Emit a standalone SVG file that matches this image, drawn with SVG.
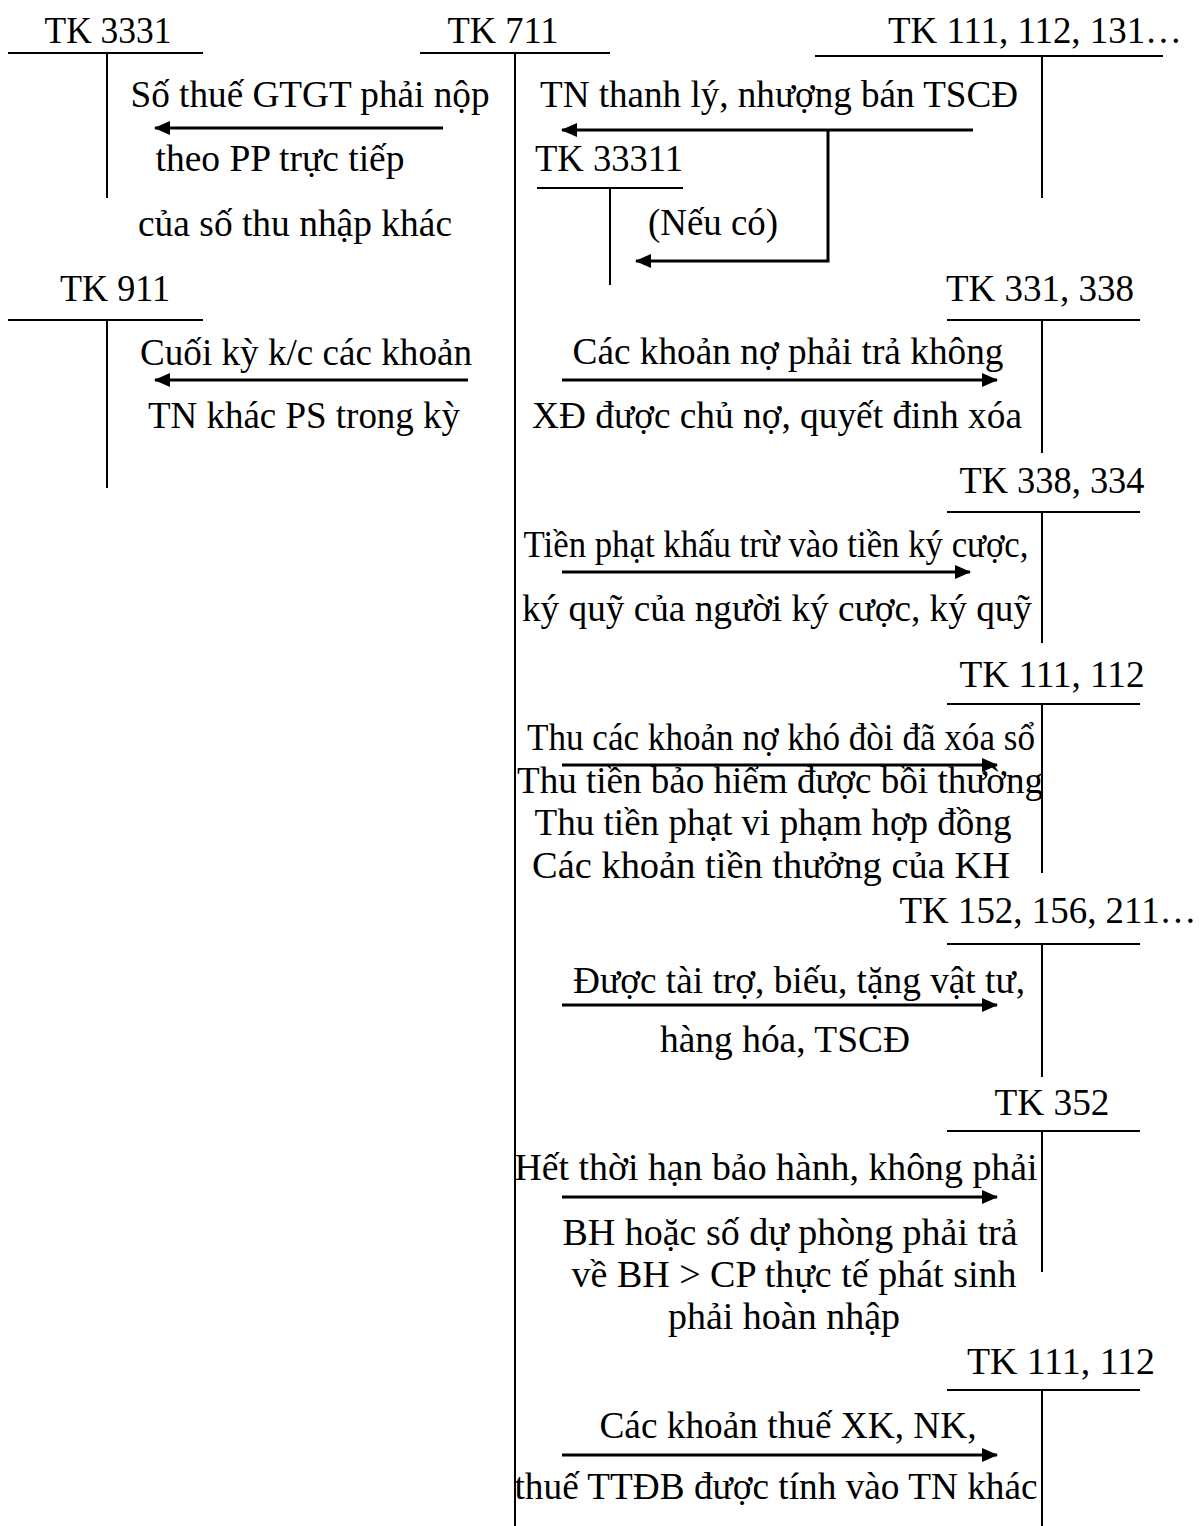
<svg xmlns="http://www.w3.org/2000/svg" width="1200" height="1526" viewBox="0 0 1200 1526">
<style>
text{font-family:"Liberation Serif","Times New Roman",serif;font-size:37px;fill:#000;text-anchor:middle}
.t{stroke:#000;stroke-width:2;fill:none}
.a{stroke:#000;stroke-width:3;fill:none;marker-end:url(#ah)}
</style>
<defs>
<marker id="ah" markerUnits="userSpaceOnUse" markerWidth="16" markerHeight="14" refX="15" refY="7" orient="auto">
<path d="M0,0 L16,7 L0,14 Z" fill="#000"/>
</marker>
</defs>
<rect width="1200" height="1526" fill="#fff"/>
<g id="tk3331"><text x="108" y="43" textLength="127" lengthAdjust="spacingAndGlyphs">TK 3331</text><line class="t" x1="8" y1="53" x2="203" y2="53"/><line class="t" x1="107" y1="53" x2="107" y2="198"/></g>
<g id="tk711"><text x="503" y="43" textLength="111" lengthAdjust="spacingAndGlyphs">TK 711</text><line class="t" x1="420" y1="53" x2="610" y2="53"/><line class="t" x1="515" y1="53" x2="515" y2="1526"/></g>
<g id="tk111a"><text x="1035" y="43" textLength="294" lengthAdjust="spacingAndGlyphs">TK 111, 112, 131…</text><line class="t" x1="815" y1="56" x2="1163" y2="56"/><line class="t" x1="1042" y1="56" x2="1042" y2="198"/></g>
<g id="tk33311"><text x="609" y="171" textLength="148" lengthAdjust="spacingAndGlyphs">TK 33311</text><line class="t" x1="537" y1="188" x2="683" y2="188"/><line class="t" x1="610" y1="188" x2="610" y2="285"/></g>
<g id="tk911"><text x="115" y="301" textLength="110" lengthAdjust="spacingAndGlyphs">TK 911</text><line class="t" x1="8" y1="320" x2="203" y2="320"/><line class="t" x1="107" y1="320" x2="107" y2="488"/></g>
<g id="tk331"><text x="1040" y="301" textLength="188" lengthAdjust="spacingAndGlyphs">TK 331, 338</text><line class="t" x1="947" y1="320" x2="1140" y2="320"/><line class="t" x1="1042" y1="320" x2="1042" y2="453"/></g>
<g id="tk338"><text x="1052" y="493" textLength="185" lengthAdjust="spacingAndGlyphs">TK 338, 334</text><line class="t" x1="947" y1="512" x2="1140" y2="512"/><line class="t" x1="1042" y1="512" x2="1042" y2="643"/></g>
<g id="tk111b"><text x="1052" y="687" textLength="185" lengthAdjust="spacingAndGlyphs">TK 111, 112</text><line class="t" x1="947" y1="704" x2="1140" y2="704"/><line class="t" x1="1042" y1="704" x2="1042" y2="873"/></g>
<g id="tk152"><text x="1048" y="923" textLength="297" lengthAdjust="spacingAndGlyphs">TK 152, 156, 211…</text><line class="t" x1="947" y1="944" x2="1140" y2="944"/><line class="t" x1="1042" y1="944" x2="1042" y2="1077"/></g>
<g id="tk352"><text x="1052" y="1115" textLength="115" lengthAdjust="spacingAndGlyphs">TK 352</text><line class="t" x1="947" y1="1131" x2="1140" y2="1131"/><line class="t" x1="1042" y1="1131" x2="1042" y2="1272"/></g>
<g id="tk111c"><text x="1061" y="1374" textLength="188" lengthAdjust="spacingAndGlyphs">TK 111, 112</text><line class="t" x1="947" y1="1390" x2="1140" y2="1390"/><line class="t" x1="1042" y1="1390" x2="1042" y2="1526"/></g>
<g id="connectors">
<line class="a" x1="443" y1="128" x2="155" y2="128"/>
<line class="a" x1="973" y1="130" x2="562" y2="130"/>
<polyline class="a" points="828,130 828,261 636,261"/>
<line class="a" x1="468" y1="380" x2="155" y2="380"/>
<line class="a" x1="562" y1="380" x2="997" y2="380"/>
<line class="a" x1="562" y1="572" x2="970" y2="572"/>
<line class="a" x1="562" y1="765" x2="997" y2="765"/>
<line class="a" x1="562" y1="1005" x2="997" y2="1005"/>
<line class="a" x1="562" y1="1197" x2="997" y2="1197"/>
<line class="a" x1="562" y1="1455" x2="997" y2="1455"/>
</g>
<g id="labels">
<text x="310" y="107" textLength="359" lengthAdjust="spacingAndGlyphs">Số thuế GTGT phải nộp</text>
<text x="280" y="171" textLength="249" lengthAdjust="spacingAndGlyphs">theo PP trực tiếp</text>
<text x="295" y="236" textLength="314" lengthAdjust="spacingAndGlyphs">của số thu nhập khác</text>
<text x="779" y="107" textLength="478" lengthAdjust="spacingAndGlyphs">TN thanh lý, nhượng bán TSCĐ</text>
<text x="713" y="235" textLength="130" lengthAdjust="spacingAndGlyphs">(Nếu có)</text>
<text x="306" y="365" textLength="332" lengthAdjust="spacingAndGlyphs">Cuối kỳ k/c các khoản</text>
<text x="304" y="428" textLength="312" lengthAdjust="spacingAndGlyphs">TN khác PS trong kỳ</text>
<text x="788" y="364" textLength="431" lengthAdjust="spacingAndGlyphs">Các khoản nợ phải trả không</text>
<text x="777" y="428" textLength="490" lengthAdjust="spacingAndGlyphs">XĐ được chủ nợ, quyết đinh xóa</text>
<text x="776" y="557" textLength="505" lengthAdjust="spacingAndGlyphs">Tiền phạt khấu trừ vào tiền ký cược,</text>
<text x="777" y="621" textLength="510" lengthAdjust="spacingAndGlyphs">ký quỹ của người ký cược, ký quỹ</text>
<text x="781" y="750" textLength="508" lengthAdjust="spacingAndGlyphs">Thu các khoản nợ khó đòi đã xóa sổ</text>
<text x="780" y="793" textLength="526" lengthAdjust="spacingAndGlyphs">Thu tiền bảo hiểm được bồi thường</text>
<text x="773" y="835" textLength="477" lengthAdjust="spacingAndGlyphs">Thu tiền phạt vi phạm hợp đồng</text>
<text x="771" y="878" textLength="478" lengthAdjust="spacingAndGlyphs">Các khoản tiền thưởng của KH</text>
<text x="799" y="993" textLength="452" lengthAdjust="spacingAndGlyphs">Được tài trợ, biếu, tặng vật tư,</text>
<text x="785" y="1052" textLength="250" lengthAdjust="spacingAndGlyphs">hàng hóa, TSCĐ</text>
<text x="776" y="1180" textLength="523" lengthAdjust="spacingAndGlyphs">Hết thời hạn bảo hành, không phải</text>
<text x="790" y="1245" textLength="455" lengthAdjust="spacingAndGlyphs">BH hoặc số dự phòng phải trả</text>
<text x="794" y="1287" textLength="445" lengthAdjust="spacingAndGlyphs">về BH &gt; CP thực tế phát sinh</text>
<text x="784" y="1329" textLength="232" lengthAdjust="spacingAndGlyphs">phải hoàn nhập</text>
<text x="788" y="1438" textLength="377" lengthAdjust="spacingAndGlyphs">Các khoản thuế XK, NK,</text>
<text x="776" y="1499" textLength="523" lengthAdjust="spacingAndGlyphs">thuế TTĐB được tính vào TN khác</text>
</g>
</svg>
